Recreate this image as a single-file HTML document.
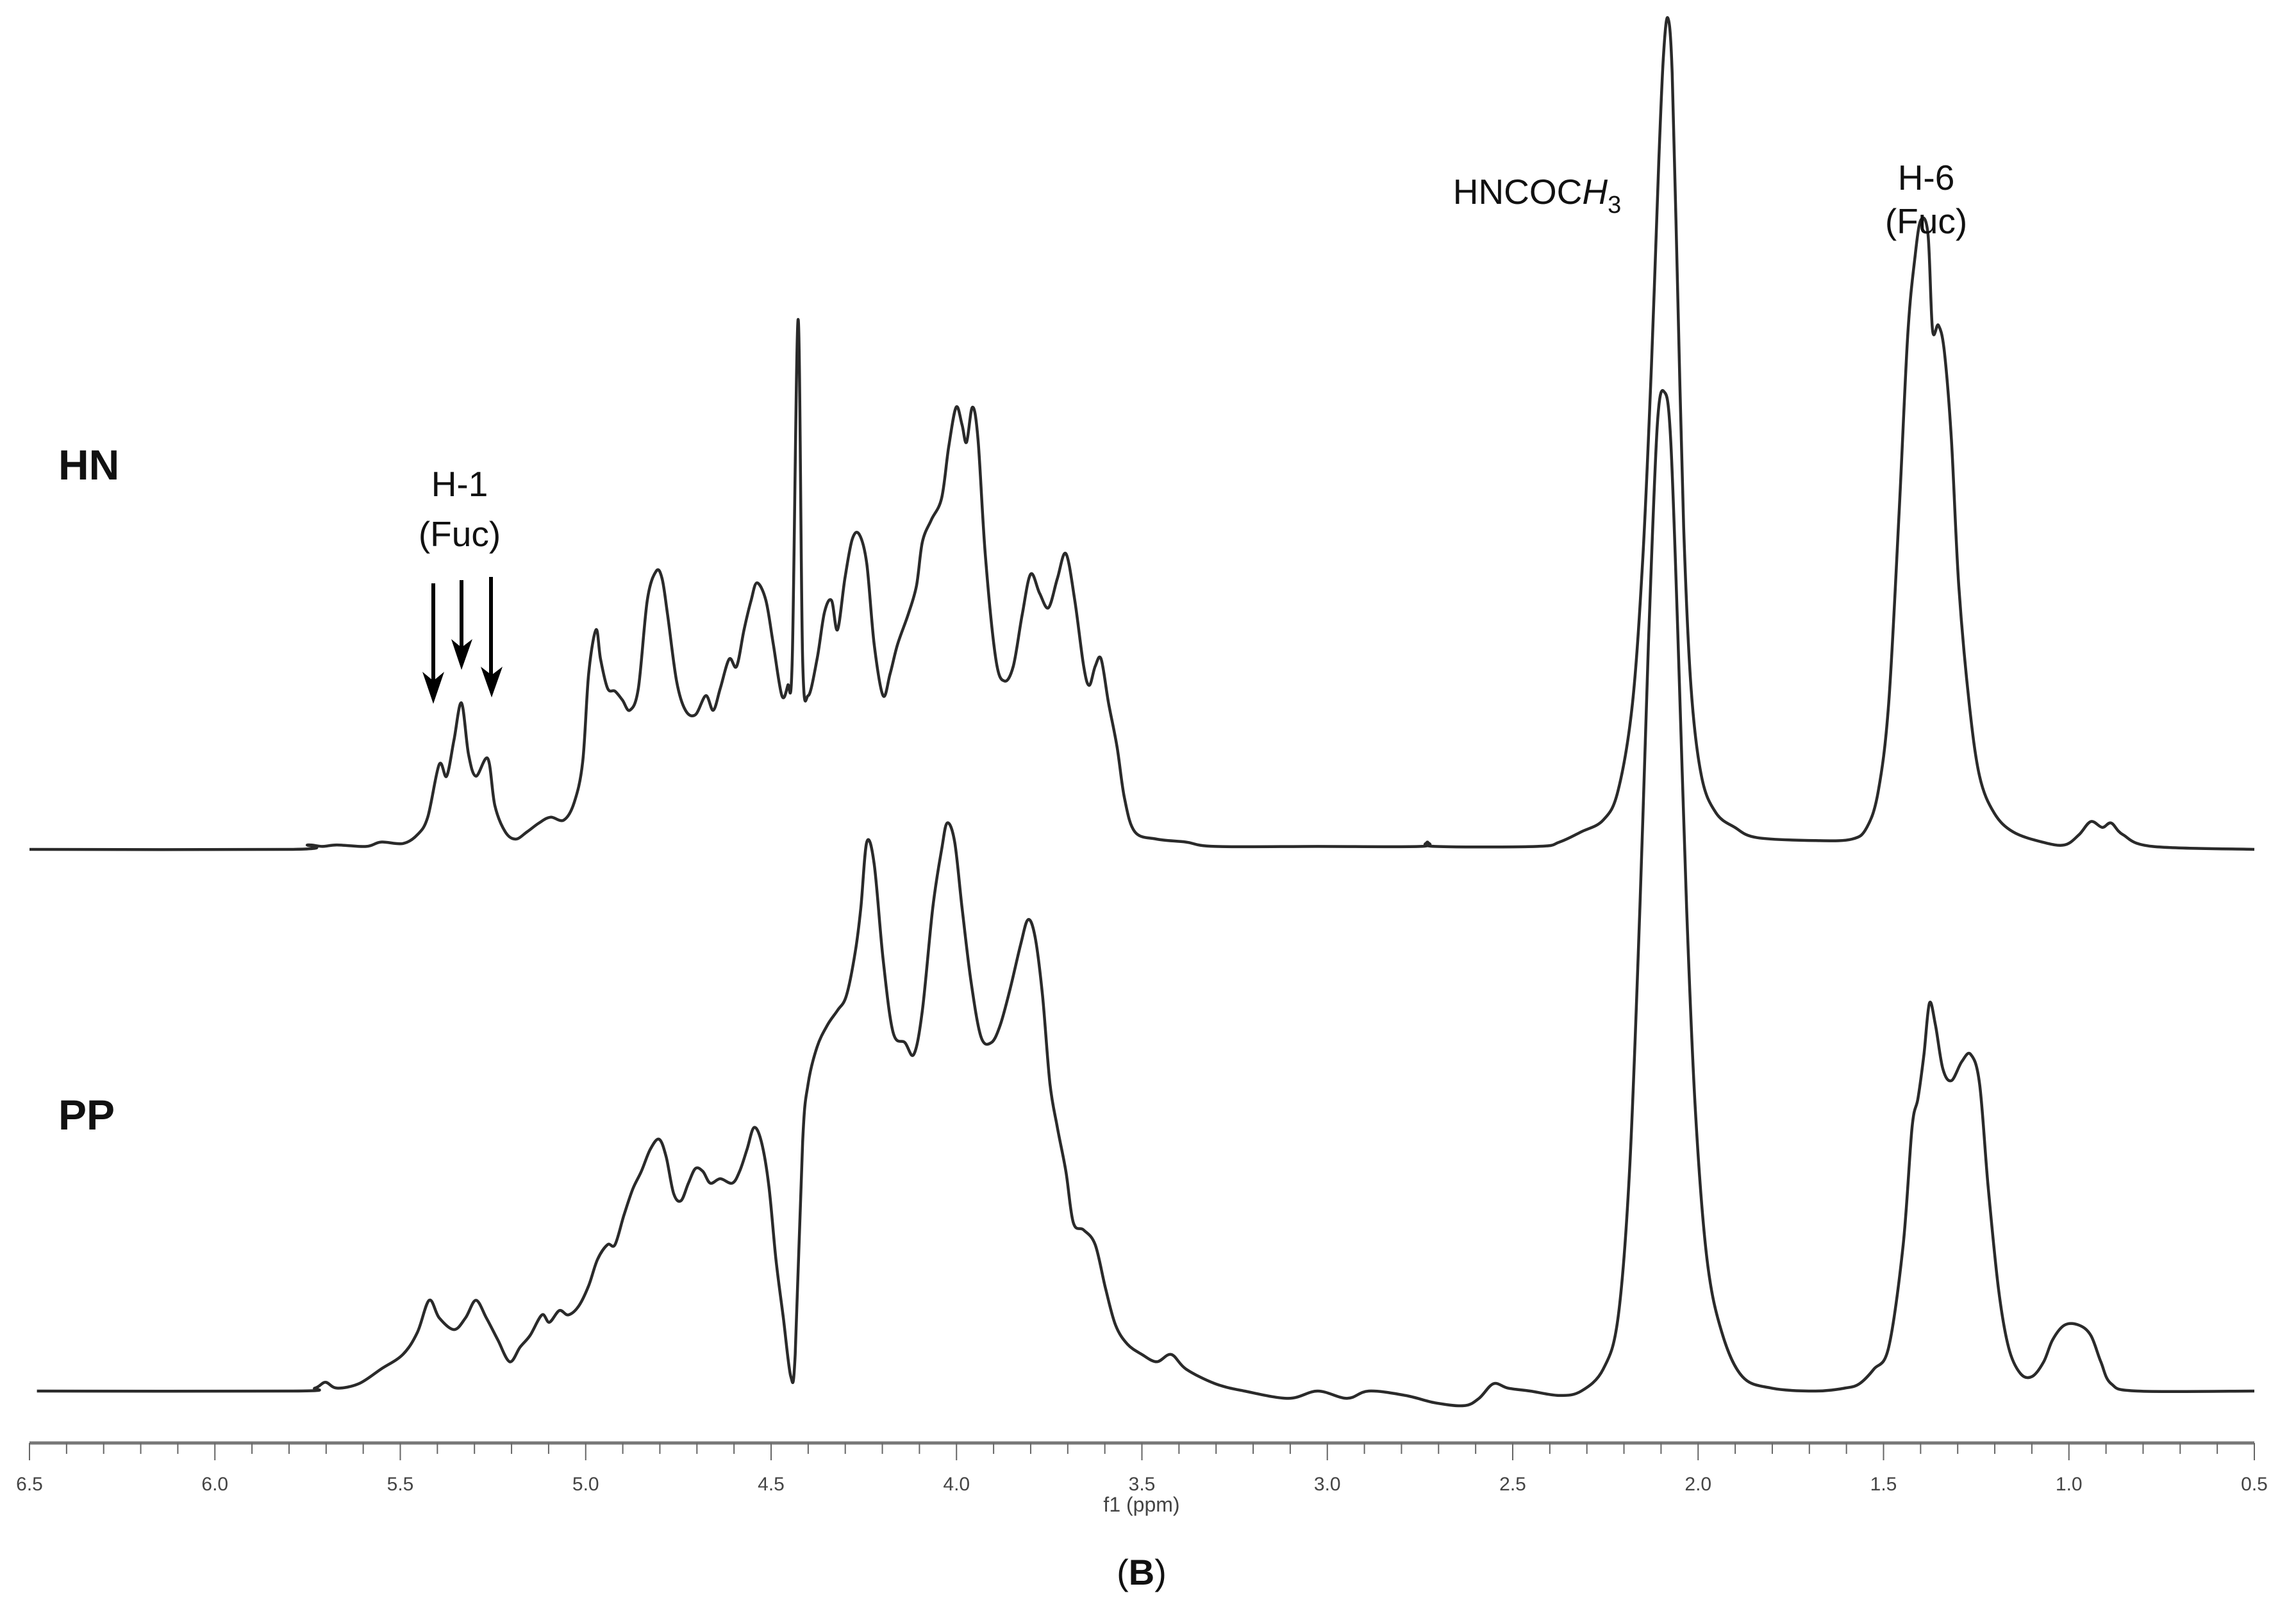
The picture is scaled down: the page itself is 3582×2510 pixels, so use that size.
<!DOCTYPE html>
<html><head><meta charset="utf-8"><style>
html,body{margin:0;padding:0;background:#fff;}
svg{display:block;}
text{font-family:"Liberation Sans","DejaVu Sans",sans-serif;}
</style></head><body>
<svg id="chart" width="3582" height="2510" viewBox="0 0 3582 2510" xmlns="http://www.w3.org/2000/svg">
<g id="axis"></g>
<g id="series"></g>
<text x="91" y="748" font-size="66" font-weight="bold" fill="#111">HN</text>
<text x="91" y="1762" font-size="66" font-weight="bold" fill="#111">PP</text>
<g fill="#111" font-size="55" text-anchor="middle">
<text x="717" y="774">H-1</text><text x="717" y="852">(Fuc)</text>
</g>
<g stroke="#000" stroke-width="6" fill="#000">
<line x1="676" y1="910" x2="676" y2="1065"/><polygon points="676,1098 659,1048 676,1062 693,1048" stroke="none"/>
<line x1="720" y1="905" x2="720" y2="1012"/><polygon points="720,1045 704,997 720,1010 737,997" stroke="none"/>
<line x1="766" y1="900" x2="766" y2="1055"/><polygon points="767,1088 750,1040 767,1053 784,1040" stroke="none"/>
</g>
<text x="2398" y="318" font-size="55" text-anchor="middle" fill="#111">HNCOC<tspan font-style="italic">H</tspan><tspan font-size="38" dy="14">3</tspan></text>
<g fill="#111" font-size="55" text-anchor="middle">
<text x="3005" y="296">H-6</text><text x="3005" y="364">(Fuc)</text>
</g>
<text x="1781" y="2358" font-size="32" text-anchor="middle" fill="#444">f1 (ppm)</text>
<text x="1781" y="2472" font-size="56" text-anchor="middle" fill="#111" font-family="Liberation Serif, serif">(<tspan font-weight="bold">B</tspan>)</text>
</svg>
<script>
const hnPpm=[6.500,5.789,5.750,5.710,5.671,5.592,5.552,5.493,5.454,5.426,5.395,5.375,5.355,5.335,5.316,5.296,5.264,5.245,5.217,5.189,5.158,5.126,5.095,5.059,5.031,5.008,4.992,4.972,4.960,4.941,4.921,4.901,4.881,4.858,4.834,4.810,4.794,4.779,4.755,4.731,4.704,4.676,4.656,4.637,4.613,4.593,4.573,4.554,4.538,4.514,4.494,4.471,4.455,4.443,4.427,4.415,4.400,4.376,4.356,4.337,4.321,4.301,4.281,4.262,4.242,4.222,4.198,4.179,4.159,4.131,4.108,4.092,4.068,4.040,4.021,4.001,3.985,3.973,3.957,3.942,3.922,3.894,3.871,3.847,3.823,3.800,3.776,3.752,3.728,3.705,3.681,3.657,3.642,3.626,3.610,3.590,3.567,3.547,3.519,3.460,3.381,3.302,3.026,2.749,2.730,2.710,2.434,2.374,2.315,2.256,2.216,2.177,2.149,2.126,2.106,2.094,2.082,2.070,2.055,2.039,2.019,1.991,1.952,1.901,1.841,1.683,1.585,1.545,1.514,1.486,1.458,1.435,1.415,1.399,1.380,1.368,1.352,1.336,1.317,1.297,1.269,1.241,1.202,1.151,1.072,1.012,0.973,0.941,0.910,0.886,0.854,0.775,0.500];
const hnIntensity=[0,0,3,2,3,2,5,4,10,22,58,50,75,100,65,50,62,30,12,7,12,18,22,20,32,60,120,150,130,110,108,102,95,110,170,190,185,160,115,95,92,105,95,110,130,125,150,170,182,170,140,105,112,130,362,130,105,130,162,170,150,185,212,215,195,140,105,120,140,160,180,210,225,240,275,302,290,278,302,280,200,130,115,125,160,188,175,165,185,202,170,125,112,125,130,100,70,35,12,7,5,2,2,2,5,2,2,5,12,20,40,100,200,330,470,540,568,530,380,220,110,50,25,15,8,6,7,15,40,100,230,350,405,430,420,355,358,340,280,180,100,50,25,12,5,3,10,19,15,18,10,2,0];
const ppPpm=[6.480,5.789,5.730,5.702,5.671,5.612,5.552,5.493,5.454,5.422,5.395,5.355,5.324,5.296,5.268,5.237,5.205,5.177,5.150,5.118,5.098,5.071,5.047,5.019,4.992,4.968,4.941,4.921,4.897,4.873,4.850,4.826,4.802,4.783,4.763,4.743,4.723,4.704,4.684,4.664,4.637,4.605,4.585,4.565,4.546,4.526,4.506,4.487,4.467,4.447,4.435,4.415,4.400,4.376,4.348,4.321,4.297,4.273,4.258,4.242,4.222,4.198,4.171,4.139,4.115,4.092,4.064,4.040,4.025,4.005,3.985,3.961,3.934,3.906,3.882,3.855,3.827,3.807,3.788,3.768,3.748,3.728,3.705,3.685,3.657,3.626,3.598,3.571,3.539,3.500,3.460,3.421,3.381,3.302,3.223,3.105,3.026,2.947,2.888,2.789,2.710,2.631,2.591,2.552,2.513,2.453,2.374,2.315,2.256,2.216,2.185,2.157,2.134,2.110,2.090,2.074,2.055,2.031,2.007,1.976,1.936,1.881,1.802,1.683,1.604,1.565,1.526,1.486,1.447,1.423,1.407,1.391,1.376,1.360,1.340,1.317,1.289,1.265,1.241,1.218,1.190,1.163,1.131,1.099,1.068,1.044,1.012,0.973,0.941,0.914,0.886,0.815,0.500];
const ppIntensity=[0,0,2,6,2,5,15,25,40,62,50,42,50,62,50,35,20,30,38,52,47,55,52,58,72,90,100,100,120,138,150,165,172,160,135,130,142,152,150,142,145,142,150,165,180,170,140,90,50,10,25,170,210,235,250,260,270,300,330,375,360,295,245,238,230,260,330,370,388,375,330,280,242,238,250,275,305,322,310,270,210,180,150,115,110,100,70,45,32,25,20,25,15,5,0,-5,0,-5,0,-3,-8,-10,-5,5,2,0,-3,0,15,50,150,330,510,660,682,650,520,330,190,90,40,10,2,0,2,5,15,30,100,180,200,230,265,250,220,212,225,230,210,140,70,30,12,10,20,35,45,45,38,20,5,0,0];
const tickLabels=["6.5","6.0","5.5","5.0","4.5","4.0","3.5","3.0","2.5","2.0","1.5","1.0","0.5"];

const NS="http://www.w3.org/2000/svg";
const X0=46,X1=3517,PMAX=6.5,PMIN=0.5,YS=2.284;
function xScale(p){return X0+(PMAX-p)/(PMAX-PMIN)*(X1-X0);}
function yScale(v,base){return base-v*YS;}

const axis=document.getElementById('axis');
const axLine=document.createElementNS(NS,'line');


axLine.setAttribute('x1',X0);axLine.setAttribute('x2',X1);
axLine.setAttribute('y1',2251);axLine.setAttribute('y2',2251);
axLine.setAttribute('stroke','#777');axLine.setAttribute('stroke-width','5');
axis.appendChild(axLine);
for(let i=0;i<=60;i++){
  const p=PMAX-i*0.1;const x=xScale(p);const major=i%5===0;
  const t=document.createElementNS(NS,'line');
  
  
  t.setAttribute('x1',x);t.setAttribute('x2',x);
  t.setAttribute('y1',2251);t.setAttribute('y2',major?2278:2268);
  t.setAttribute('stroke','#666');t.setAttribute('stroke-width','2');
  axis.appendChild(t);
}
tickLabels.forEach(function(l){
  const tx=document.createElementNS(NS,'text');
  
  
  tx.setAttribute('x',xScale(parseFloat(l)));tx.setAttribute('y',2325);
  tx.setAttribute('font-size','30');tx.setAttribute('text-anchor','middle');tx.setAttribute('fill','#444');
  tx.textContent=l;axis.appendChild(tx);
});

function pathFor(ppm,vals,base){
  const n=Math.min(ppm.length,vals.length);
  const pts=[];for(let i=0;i<n;i++)pts.push([xScale(ppm[i]),yScale(vals[i],base)]);
  let d='M'+pts[0][0].toFixed(1)+','+pts[0][1].toFixed(1);
  for(let i=0;i<n-1;i++){
    const p0=pts[Math.max(0,i-1)],p1=pts[i],p2=pts[i+1],p3=pts[Math.min(n-1,i+2)];
    const k=1/6;
    const c1x=p1[0]+(p2[0]-p0[0])*k,c1y=p1[1]+(p2[1]-p0[1])*k;
    const c2x=p2[0]-(p3[0]-p1[0])*k,c2y=p2[1]-(p3[1]-p1[1])*k;
    d+=' C'+c1x.toFixed(1)+','+c1y.toFixed(1)+' '+c2x.toFixed(1)+','+c2y.toFixed(1)+' '+p2[0].toFixed(1)+','+p2[1].toFixed(1);
  }
  return d;
}
const series=document.getElementById('series');
const hn=document.createElementNS(NS,'path');


hn.setAttribute('d',pathFor(hnPpm,hnIntensity,1325));
hn.setAttribute('fill','none');hn.setAttribute('stroke','#2a2a2a');hn.setAttribute('stroke-width','4.5');hn.setAttribute('stroke-linejoin','round');
series.appendChild(hn);
const pp=document.createElementNS(NS,'path');


pp.setAttribute('d',pathFor(ppPpm,ppIntensity,2170));
pp.setAttribute('fill','none');pp.setAttribute('stroke','#2a2a2a');pp.setAttribute('stroke-width','4.5');pp.setAttribute('stroke-linejoin','round');
series.appendChild(pp);
</script>
</body></html>
